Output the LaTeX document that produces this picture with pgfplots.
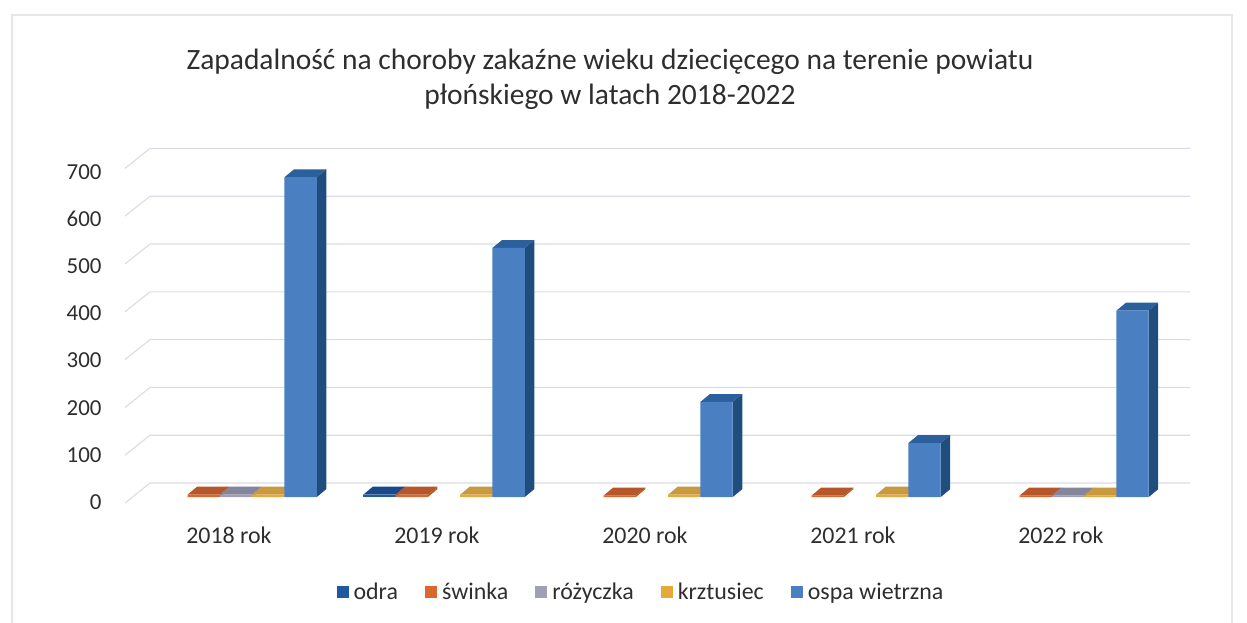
\documentclass[border=0pt]{standalone}
\usepackage{fontspec}
\setmainfont{Carlito}
\usepackage{pgfplots}
\usepackage{pgfplotstable}
\pgfplotsset{compat=1.18}
\definecolor{cText}{HTML}{2E2E2E}
\definecolor{cGrid}{HTML}{DADBE8}
\definecolor{cFrame}{HTML}{E6E6EC}
\definecolor{cOdra}{HTML}{1F5AA0}\definecolor{cOdraT}{HTML}{174A8C}
\definecolor{cSw}{HTML}{D8682E}\definecolor{cSwT}{HTML}{B5572A}
\definecolor{cRo}{HTML}{A0A0B4}\definecolor{cRoT}{HTML}{85859C}
\definecolor{cKr}{HTML}{E8A93C}\definecolor{cKrT}{HTML}{C9993F}
\definecolor{cOs}{HTML}{4A80C2}\definecolor{cOsT}{HTML}{2B609C}\definecolor{cOsS}{HTML}{1F4E7E}
\pgfplotstableread{
i odra swinka rozyczka krztusiec ospa
0 nan 5 5 5 669
1 5 5 nan 5 521
2 nan 3 nan 5 199
3 nan 3 nan 5 113
4 nan 3 3 3 390
}\data
\newcommand{\cube}[5]{% group, series slot, value, top colour, side colour
  \pgfmathsetmacro{\xa}{#1+(#2-0.5)*0.1553}
  \pgfmathsetmacro{\xb}{\xa+0.1553}
  \pgfmathsetmacro{\xc}{\xa+0.0457}
  \pgfmathsetmacro{\xd}{\xb+0.0457}
  \pgfmathsetmacro{\yt}{#3}
  \pgfmathsetmacro{\yu}{#3+16.5}
  \addplot[fill=#4,draw=none,forget plot] coordinates {(\xa,\yt) (\xb,\yt) (\xd,\yu) (\xc,\yu)} -- cycle;
  \addplot[fill=#5,draw=none,forget plot] coordinates {(\xb,0) (\xd,16.5) (\xd,\yu) (\xb,\yt)} -- cycle;
}
\newcommand{\gline}[1]{%
  \pgfmathsetmacro{\ya}{#1-12.5}
  \pgfmathsetmacro{\yb}{#1+29.3}
  \addplot[cGrid,line width=1.1bp,forget plot] coordinates {(-0.5337,\ya) (-0.4135,\yb) (4.5865,\yb)};
}
\begin{document}
\begin{tikzpicture}
\path[use as bounding box] (0,0) rectangle (1247bp,623bp);
\draw[cFrame,line width=1.2bp] (12bp,0) -- (12bp,608bp) -- (1232bp,608bp) -- (1232bp,0);
\begin{axis}[
  at={(125bp,120bp)},
  scale only axis,
  width=1065bp, height=354.6bp,
  xmin=-0.5337, xmax=4.5865,
  ymin=-12.5, ymax=729.3,
  clip=false,
  axis line style={draw=none},
  tick style={draw=none},
  major tick length=0pt,
  xtick={-0.034,0.966,1.966,2.966,3.966},
  xticklabels={2018 rok,2019 rok,2020 rok,2021 rok,2022 rok},
  ytick={-10.5,88.1,186.8,285.4,384.1,482.7,581.3,680},
  yticklabels={0,100,200,300,400,500,600,700},
  ticklabel style={text=cText},
  yticklabel style={font=\fontsize{23}{27}\selectfont,xshift=-20bp},
  xticklabel style={font=\fontsize{24}{28}\selectfont,yshift=-20bp},
  title={Zapadalność na choroby zakaźne wieku dziecięcego na terenie powiatu\\płońskiego w latach 2018-2022},
  title style={at={(0.4554,1)},anchor=center,yshift=63bp,align=center,
    font=\fontsize{29.6}{35}\selectfont,text=cText},
  legend columns=5,
  legend style={at={(0.4845,-0.251)},anchor=center,draw=none,fill=none,
    font=\fontsize{24}{28}\selectfont,text=cText,
    /tikz/every even column/.append style={column sep=25bp}},
  legend image code/.code={\fill[#1] (0bp,-6bp) rectangle (12bp,6bp);\path (15bp,0bp);},
  unbounded coords=discard,
]
\gline{0}\gline{100}\gline{200}\gline{300}\gline{400}\gline{500}\gline{600}\gline{700}

% odra
\cube{1}{-2}{5}{cOdraT}{cOdraT}
\addplot[ybar,bar width=32.3bp,bar shift=-64.6bp,fill=cOdra,draw=none] table[x=i,y=odra] {\data};
\addlegendentry{odra}
% świnka
\cube{0}{-1}{5}{cSwT}{cSwT}\cube{1}{-1}{5}{cSwT}{cSwT}\cube{2}{-1}{3}{cSwT}{cSwT}\cube{3}{-1}{3}{cSwT}{cSwT}\cube{4}{-1}{3}{cSwT}{cSwT}
\addplot[ybar,bar width=32.3bp,bar shift=-32.3bp,fill=cSw,draw=none] table[x=i,y=swinka] {\data};
\addlegendentry{świnka}
% różyczka
\cube{0}{0}{5}{cRoT}{cRoT}\cube{4}{0}{3}{cRoT}{cRoT}
\addplot[ybar,bar width=32.3bp,bar shift=0bp,fill=cRo,draw=none] table[x=i,y=rozyczka] {\data};
\addlegendentry{różyczka}
% krztusiec
\cube{0}{1}{5}{cKrT}{cKrT}\cube{1}{1}{5}{cKrT}{cKrT}\cube{2}{1}{5}{cKrT}{cKrT}\cube{3}{1}{5}{cKrT}{cKrT}\cube{4}{1}{3}{cKrT}{cKrT}
\addplot[ybar,bar width=32.3bp,bar shift=32.3bp,fill=cKr,draw=none] table[x=i,y=krztusiec] {\data};
\addlegendentry{krztusiec}
% ospa wietrzna
\cube{0}{2}{669}{cOsT}{cOsS}\cube{1}{2}{521}{cOsT}{cOsS}\cube{2}{2}{199}{cOsT}{cOsS}\cube{3}{2}{113}{cOsT}{cOsS}\cube{4}{2}{390}{cOsT}{cOsS}
\addplot[ybar,bar width=32.3bp,bar shift=64.6bp,fill=cOs,draw=none] table[x=i,y=ospa] {\data};
\addlegendentry{ospa wietrzna}
\end{axis}
\end{tikzpicture}
\end{document}
